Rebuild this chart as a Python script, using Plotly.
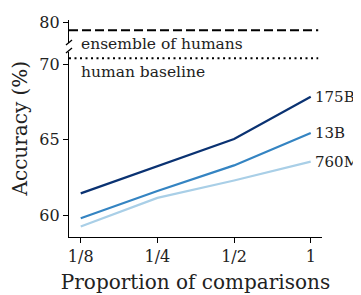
import plotly.graph_objects as go
import math

proportions = [0.125, 0.25, 0.5, 1.0]
tick_labels = ["1/8", "1/4", "1/2", "1"]
series_names = ["175B", "13B", "760M"]
acc_175b = [61.45, 63.25, 65.05, 67.85]
acc_13b = [59.8, 61.6, 63.3, 65.45]
acc_760m = [59.25, 61.15, 62.3, 63.55]
colors = ["#0a3272", "#3484c2", "#a9cfe7"]
ensemble_of_humans = 79.5
human_baseline = 70.4

FONT = "DejaVu Serif"
TXT = "#222"

fig = go.Figure()
for name, vals, c in zip(series_names, [acc_175b, acc_13b, acc_760m], colors):
    fig.add_trace(go.Scatter(x=proportions, y=vals, mode="lines",
                             line=dict(color=c, width=2.2), name=name,
                             showlegend=False, xaxis="x", yaxis="y"))
    fig.add_annotation(x=math.log10(proportions[-1]), y=vals[-1], xref="x", yref="y",
                       text=name, showarrow=False, xanchor="left", yanchor="middle",
                       xshift=2, font=dict(family=FONT, size=15, color=TXT))

fig.add_trace(go.Scatter(x=[proportions[0]], y=[ensemble_of_humans], mode="lines",
                         xaxis="x2", yaxis="y2", showlegend=False,
                         line=dict(width=0), hoverinfo="skip"))

xr = [math.log10(2 ** -3.153), math.log10(2 ** 0.147)]

fig.add_shape(type="line", xref="paper", yref="y2", x0=0, x1=0.985,
              y0=ensemble_of_humans, y1=ensemble_of_humans,
              line=dict(color="black", width=2, dash="9px,4px"))
fig.add_shape(type="line", xref="paper", yref="y", x0=0, x1=0.985,
              y0=human_baseline, y1=human_baseline,
              line=dict(color="black", width=2, dash="2px,3.5px"))

fig.add_annotation(x=0.04, y=0.889, xref="paper", yref="paper", text="ensemble of humans",
                   showarrow=False, xanchor="left", yanchor="middle",
                   font=dict(family=FONT, size=15.5, color=TXT))
fig.add_annotation(x=0.04, y=0.76, xref="paper", yref="paper", text="human baseline",
                   showarrow=False, xanchor="left", yanchor="middle",
                   font=dict(family=FONT, size=15.5, color=TXT))

# y-axis title centred on the whole (broken) axis
fig.add_annotation(x=0, y=0.5, xref="paper", yref="paper", text="Accuracy (%)",
                   textangle=-90, showarrow=False, xanchor="center", yanchor="middle",
                   xshift=-50, font=dict(family=FONT, size=20, color=TXT))

for y0, y1 in [(0.885, 0.908), (0.848, 0.871)]:
    fig.add_shape(type="line", xref="paper", yref="paper", x0=-0.012, x1=0.012,
                  y0=y0, y1=y1, line=dict(color="black", width=1.3))

axis_common = dict(showgrid=False, zeroline=False, showline=True, linecolor="black",
                   linewidth=1.3, ticks="outside", ticklen=5, tickwidth=1.3,
                   tickcolor="black", automargin=False,
                   tickfont=dict(family=FONT, size=16, color=TXT))

# page body adds an 8px offset, so the figure is 8px smaller on each side
fig.update_layout(
    width=353, height=287,
    margin=dict(l=61, r=39, t=12, b=58),
    plot_bgcolor="white", paper_bgcolor="white",
    xaxis=dict(type="log", range=xr, tickvals=proportions, ticktext=tick_labels,
               anchor="y", title=dict(text="Proportion of comparisons",
                                      font=dict(family=FONT, size=20, color=TXT),
                                      standoff=9),
               **axis_common),
    xaxis2=dict(type="log", range=xr, anchor="y2", visible=False, matches="x"),
    yaxis=dict(domain=[0, 0.852], range=[58.56, 70.8], tickvals=[60, 65, 70],
               anchor="x", **axis_common),
    yaxis2=dict(domain=[0.894, 1], range=[78.66, 80.18], tickvals=[80],
                anchor="x2", **axis_common),
)

fig.write_html("out.html")
